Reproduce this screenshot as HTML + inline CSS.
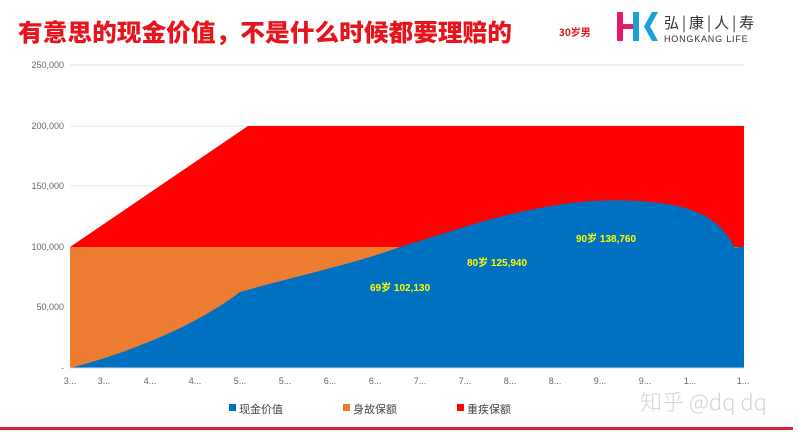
<!DOCTYPE html>
<html><head><meta charset="utf-8"><style>
body{margin:0;width:799px;height:434px;background:#fff;overflow:hidden;font-family:"Liberation Sans","Noto Sans CJK SC",sans-serif;}
</style></head><body>
<svg width="799" height="434" xmlns="http://www.w3.org/2000/svg" font-family="Liberation Sans, Noto Sans CJK SC, sans-serif">
<text x="18" y="41" font-size="24" font-weight="900" fill="#e8141b" font-family="Noto Sans CJK SC, sans-serif" textLength="494" lengthAdjust="spacingAndGlyphs">有意思的现金价值，不是什么时候都要理赔的</text>
<text x="559" y="36" font-size="10" font-weight="bold" fill="#e8141b" font-family="Noto Sans CJK SC, sans-serif">30岁男</text>
<rect x="617" y="12" width="6" height="29" fill="#e4196e"/>
<rect x="617" y="24" width="17" height="5" fill="#e4196e"/>
<rect x="633" y="12" width="6" height="29" fill="#1a9fd8"/>
<path d="M652 12 L644 26.5 L652 41 L658 41 L650 26.5 L658 12Z" fill="#1a9fd8"/>
<text x="664" y="28" font-size="15" fill="#333" font-family="Noto Sans CJK SC, sans-serif" letter-spacing="3">弘|康|人|寿</text>
<text x="664" y="42" font-size="9" fill="#333" letter-spacing="0.8">HONGKANG LIFE</text>
<g stroke="#e6e6e6" stroke-width="1">
<line x1="70" y1="65" x2="744" y2="65"/><line x1="70" y1="126" x2="744" y2="126"/><line x1="70" y1="186" x2="744" y2="186"/><line x1="70" y1="247" x2="744" y2="247"/><line x1="70" y1="307" x2="744" y2="307"/>
</g>
<g font-size="9" fill="#666" text-anchor="end">
<text x="64" y="68">250,000</text><text x="64" y="129">200,000</text><text x="64" y="189">150,000</text><text x="64" y="250">100,000</text><text x="64" y="310">50,000</text><text x="64" y="371">-</text>
</g>
<path d="M70 247 L248 126 L744 126 L744 368 L70 368Z" fill="#ff0000"/>
<rect x="70" y="247" width="674" height="121" fill="#ed7d31"/>
<path d="M70 368 C120 355 190 330 240 292 C300 275 350 265 400 247 C450 232 490 217 540 208 C580 200 620 198 660 203 C700 208 722 222 735 248 L744 246 L744 368Z" fill="#0070c0"/>
<line x1="70" y1="368" x2="744" y2="368" stroke="#d9d9d9"/>
<g font-size="10" font-weight="bold" fill="#ffff00">
<text x="370" y="291">69岁  102,130</text><text x="467" y="266">80岁  125,940</text><text x="576" y="242">90岁  138,760</text>
</g>
<g font-size="9" fill="#666" text-anchor="middle">
<text x="70" y="384">3...</text><text x="104" y="384">3...</text><text x="150" y="384">4...</text><text x="195" y="384">4...</text><text x="240" y="384">5...</text><text x="285" y="384">5...</text><text x="330" y="384">6...</text><text x="375" y="384">6...</text><text x="420" y="384">7...</text><text x="465" y="384">7...</text><text x="510" y="384">8...</text><text x="555" y="384">8...</text><text x="600" y="384">9...</text><text x="645" y="384">9...</text><text x="690" y="384">1...</text><text x="743" y="384">1...</text>
</g>
<g font-size="11" fill="#444" font-family="Noto Sans CJK SC, sans-serif">
<rect x="229" y="404" width="7" height="7" fill="#0070c0"/><text x="239" y="413">现金价值</text>
<rect x="343" y="404" width="7" height="7" fill="#ed7d31"/><text x="353" y="413">身故保额</text>
<rect x="457" y="404" width="7" height="7" fill="#ff0000"/><text x="467" y="413">重疾保额</text>
</g>
<text x="640" y="410" font-size="22" font-weight="300" fill="#c8c8c8" fill-opacity="0.8" font-family="Noto Sans CJK SC, sans-serif">知乎 @dq dq</text>
<rect x="0" y="427" width="793" height="3" fill="#d9232e"/>
</svg>
</body></html>
